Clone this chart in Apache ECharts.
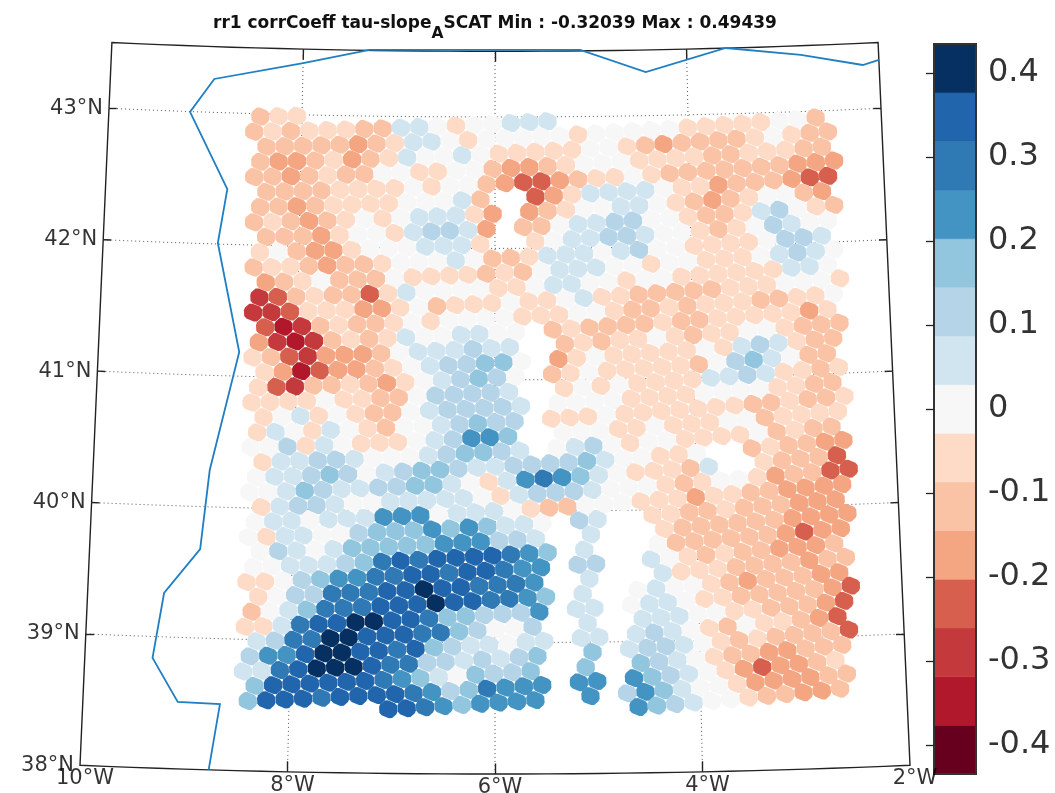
<!DOCTYPE html>
<html>
<head>
<meta charset="utf-8">
<style>html,body{margin:0;padding:0;background:#fff}#c{width:1055px;height:793px}</style>
<script src="https://cdn.jsdelivr.net/npm/echarts@6/dist/echarts.min.js"></script>
</head>
<body>
<div id="c"></div>
<script>
// class shorthand: negative classes a..f, empty cell _
const _=null,a=-1,b=-2,c=-3,d=-4,e=-5,f=-6;
const latTicks=[38,39,40,41,42,43];
const lonTicks=[-10,-8,-6,-4,-2];
const barTicks=[0.4,0.3,0.2,0.1,0,-0.1,-0.2,-0.3,-0.4];
const barColors=['#67001f','#b2182b','#c43a3c','#d6604d','#f4a582','#fac3a6','#fddbc7','#f7f7f7','#d1e5f0','#b5d4e8','#92c5de','#4393c3','#2f79b5','#2166ac','#053061'];
const barMax=0.4345;
const coastLon=[-8.76,-8.67,-9.08,-9.34,-9.25,-8.91,-8.84,-8.58,-8.83,-8.75,-9.16,-8.92,-8.0,-7.31,-5.11,-4.43,-3.59,-2.81,-2.17,-2.0];
const coastLat=[38.0,38.503,38.509,38.837,39.334,39.677,40.28,41.184,42.008,42.42,42.997,43.254,43.394,43.503,43.507,43.332,43.501,43.43,43.335,43.368];
// first lattice column of each row of retrieval cells
const rowStartCol=[0,0,1,1,1,2,2,2,3,3,3,4,4,4,5,5,5,6,6,6,7,7,7,8,8,8,9,9,9,10,10,10,11,11,11,12,12,12,13,13,21,35];
// colour class of each cell, row by row
const rowClasses=[
[b,a,a],
[b,a,b,a,a,a,b,b,1,1,0,a,0,0,1,1,1],
[b,b,b,b,b,c,b,a,1,1,0,a,0,0,0,0,0,a,0,0,0,0,0,a,a,a,a,a,0,0,b],
[b,c,c,b,a,c,b,a,1,0,0,1,0,a,a,a,a,a,0,0,a,b,c,b,b,b,b,a,0,a,b,b],
[b,b,c,b,a,b,b,0,0,a,a,0,0,b,c,c,b,a,0,0,0,a,a,a,a,b,b,a,a,a,b,b],
[b,b,b,b,a,a,a,a,0,a,0,0,b,c,d,d,c,b,a,a,0,a,b,b,b,b,b,b,b,c,c,c],
[b,b,c,b,a,a,a,a,0,0,0,1,b,_,_,d,c,a,1,1,1,1,0,a,a,c,b,b,b,c,d,d],
[b,a,b,c,b,a,0,a,0,1,1,1,a,c,_,c,b,a,0,0,1,1,0,a,b,c,b,a,0,0,b,c],
[b,b,b,c,a,0,0,a,1,2,2,1,c,_,b,b,0,1,1,2,2,0,0,a,b,b,a,1,2,0,a,b],
[a,0,b,c,c,a,0,0,0,1,1,1,a,_,_,a,0,1,1,2,2,1,0,0,a,b,a,0,2,1,0,0],
[b,a,a,b,c,b,b,a,0,0,0,1,0,b,b,a,1,1,1,0,1,2,0,0,a,a,a,a,0,2,2,1],
[c,b,a,0,b,b,b,0,a,a,a,a,b,a,b,0,1,1,1,0,0,a,0,0,a,a,a,0,1,2,1,0],
[e,d,b,a,b,b,d,a,1,0,0,0,0,a,a,0,1,1,0,0,a,0,0,a,a,a,a,a,a,1,1,0],
[e,e,d,a,a,a,c,c,a,0,b,a,a,a,0,a,a,0,1,a,a,b,b,b,b,b,a,a,a,0,0,0,a],
[d,f,e,b,a,b,b,a,0,a,0,0,0,0,a,a,a,0,0,a,b,b,a,b,a,a,a,b,b,a,a,0],
[c,e,f,e,b,a,b,a,1,0,0,1,1,0,0,_,b,a,b,b,b,b,a,b,b,a,a,a,a,a,c,a],
[a,b,d,e,c,c,c,b,0,1,1,1,2,1,1,_,_,b,a,b,a,a,0,a,b,a,a,0,0,a,b,b,b],
[a,c,f,d,c,c,b,a,0,1,2,2,3,3,0,_,c,a,0,a,a,a,a,a,0,a,1,2,1,a,b,b],
[a,d,e,b,b,a,b,c,a,0,1,2,3,2,0,_,b,a,0,a,a,a,a,a,b,0,2,3,1,0,b,b],
[a,a,a,a,0,a,a,b,b,0,2,2,2,2,1,_,_,a,0,a,0,a,a,a,a,1,1,2,1,a,a,b,a],
[a,0,1,a,0,a,b,b,0,1,2,2,2,2,1,_,0,0,0,0,a,a,a,a,0,0,0,0,a,a,b,b],
[a,1,0,a,1,0,a,b,0,0,1,2,3,2,2,_,a,a,a,0,a,a,a,a,a,a,a,b,b,a,b,b,a],
[0,0,2,a,1,0,a,a,a,0,1,2,4,4,3,_,_,0,0,0,a,a,0,a,a,a,0,0,b,a,a,a,a],
[a,1,1,2,2,1,0,0,0,1,2,3,3,2,1,_,0,1,2,0,a,0,0,a,a,a,a,0,b,a,b,b],
[0,1,1,2,3,2,0,1,2,3,3,2,1,1,2,2,2,2,3,1,0,0,a,a,0,_,_,b,a,b,b,c,c],
[0,0,1,3,2,1,1,2,2,3,3,1,0,a,1,4,5,4,3,1,0,a,a,a,b,1,_,_,a,b,b,b,d],
[a,1,2,2,1,0,0,1,1,1,1,1,0,a,1,2,2,2,1,0,0,0,a,b,a,0,0,a,c,b,b,d,d],
[0,1,1,0,1,1,1,4,4,4,0,1,1,1,0,a,b,b,0,0,0,a,a,a,c,a,a,b,b,c,c,c,c],
[0,a,1,1,0,0,2,3,3,3,4,3,4,3,1,1,0,_,2,1,_,_,a,a,b,b,a,b,b,b,c,c,c],
[0,2,1,0,1,3,3,3,3,3,4,4,4,2,2,1,_,_,1,_,_,_,a,b,b,b,b,b,b,c,c,c,c],
[0,0,1,1,1,2,3,5,6,5,6,6,6,6,5,4,3,_,1,_,_,_,0,b,b,b,b,b,b,c,d,c,c],
[a,a,0,2,3,4,4,5,5,6,6,5,6,6,5,4,4,_,2,2,_,_,1,0,a,b,a,b,b,c,c,c,b],
[a,0,2,2,5,5,5,6,6,7,6,6,5,5,5,4,_,_,1,_,_,_,1,a,a,a,b,b,b,b,c,b,b],
[b,0,1,3,5,5,5,6,6,6,7,6,6,5,5,4,3,_,1,_,_,0,1,0,0,a,b,c,b,b,b,c,c],
[a,a,1,5,6,6,7,7,6,6,5,3,3,2,2,2,4,_,1,1,_,0,1,1,0,a,a,b,b,b,b,b,c,d],
[1,2,5,5,7,7,6,6,6,5,5,3,2,0,0,2,_,_,1,_,_,1,1,1,0,0,a,a,b,b,b,c,d],
[2,4,4,6,7,7,6,6,5,6,3,2,1,1,0,1,1,_,1,1,_,1,2,1,0,a,b,0,a,a,b,c,d],
[1,1,5,6,7,7,7,6,5,5,2,2,1,2,1,2,3,_,_,3,_,1,2,2,1,0,a,b,a,b,b,b,b,d],
[3,6,6,6,6,6,6,5,4,3,1,0,3,2,2,3,_,_,3,_,_,3,2,1,0,a,b,b,c,c,b,b,b],
[3,6,6,6,5,6,6,6,6,5,4,2,3,5,4,4,4,_,4,4,_,4,3,2,1,0,a,c,d,c,c,b,a],
[6,6,5,4,3,4,4,4,4,_,_,4,_,2,4,3,1,0,0,a,c,c,c,c,b,b],
[4,3,2,1,0,0,a,b,b,c,c,b]
];

const classWidth=2*barMax/15;
const classValue=k=>k*classWidth;
// lattice of the retrieval grid in lon/lat
function cellLon(r,col){const R=r-1;return -8.49+0.18961*col-0.0588*R-0.0002858*col*R;}
function cellLat(r,col){const R=r-1;return 42.862+0.00655*col-0.11706*R+0.00006612*col*R;}

const cells=[];
rowClasses.forEach((row,i)=>row.forEach((k,j)=>{
  if(k===null)return;
  const col=rowStartCol[i]+j;
  cells.push([cellLon(i,col),cellLat(i,col),classValue(k)]);
}));

// conic-like map projection of the figure
const projection={
  project(p){const t=(p[0]+6)/4,dl=p[1]-38;
    return [495+(415-5.8*dl)*t,774-131.4*dl-8.7*t*t];},
  unproject(q){let lat=38+(774-q[1])/131.4,t=0;
    for(let i=0;i<4;i++){t=(q[0]-495)/(415-5.8*(lat-38));lat=38+(774-q[1]-8.7*t*t)/131.4;}
    return [-6+4*t,lat];}
};
const frame=[];
for(let l=-10;l<=-2;l+=0.25)frame.push([l,38]);
for(let l=38.5;l<=43.5;l+=0.5)frame.push([-2,l]);
for(let l=-2.25;l>=-10;l-=0.25)frame.push([l,43.5]);
for(let l=43;l>=38;l-=0.5)frame.push([-10,l]);
echarts.registerMap('frame',{type:'FeatureCollection',features:[{type:'Feature',properties:{name:'frame'},geometry:{type:'Polygon',coordinates:[frame]}}]});
const px=frame.map(projection.project),xs=px.map(p=>p[0]),ys=px.map(p=>p[1]);
const minX=Math.min(...xs),maxX=Math.max(...xs),minY=Math.min(...ys),maxY=Math.max(...ys);

const grat=[];
[39,40,41,42,43].forEach(lat=>{const g=[];for(let l=-10;l<=-2;l+=0.25)g.push([l,lat]);grat.push({coords:g});});
[-8,-6,-4].forEach(lon=>{const g=[];for(let l=38;l<=43.5;l+=0.5)g.push([lon,l]);grat.push({coords:g});});
const ticks=[];
[39,40,41,42,43].forEach(lat=>{ticks.push({coords:[[-10,lat],[-9.92,lat]]});ticks.push({coords:[[-2,lat],[-2.08,lat]]});});
[-8,-6,-4].forEach(lon=>{ticks.push({coords:[[lon,38],[lon,38.08]]});ticks.push({coords:[[lon,43.5],[lon,43.42]]});});
const fontFam='"DejaVu Sans"';
const latLabels=latTicks.map(l=>({value:[-10,l],name:l+'°N'}));
const lonLabels=lonTicks.map(l=>({value:[l,38],name:(-l)+'°W'}));
const pieces=barColors.map((col,i)=>({min:-barMax+i*classWidth,max:-barMax+(i+1)*classWidth,color:col}));

const chart=echarts.init(document.getElementById('c'),null,{renderer:'canvas'});
chart.setOption({
  animation:false,
  backgroundColor:'#fff',
  title:{left:208,top:1,text:'rr1 corrCoeff tau-slope{sub|A}SCAT Min : -0.32039 Max : 0.49439',
    textStyle:{fontFamily:fontFam,fontSize:17,fontWeight:'bold',color:'#111',
      rich:{sub:{fontFamily:fontFam,fontSize:15.5,fontWeight:'bold',color:'#111',padding:[20,0,0,0]}}}},
  geo:{map:'frame',projection,roam:false,silent:true,left:minX,top:minY,width:maxX-minX,height:maxY-minY,
    label:{show:false},itemStyle:{areaColor:'rgba(0,0,0,0)',borderColor:'#222',borderWidth:1.4}},
  visualMap:{show:false,type:'piecewise',seriesIndex:3,dimension:2,pieces},
  grid:{left:934,top:44,width:42,height:730,show:false},
  xAxis:{type:'value',min:0,max:1,show:false},
  yAxis:{type:'value',min:-barMax,max:barMax,position:'right',z:10,
    splitLine:{show:false},axisLine:{show:false},
    axisTick:{show:true,inside:true,length:8,customValues:barTicks,lineStyle:{color:'#222',width:1.3}},
    axisLabel:{show:true,customValues:barTicks,margin:12,fontFamily:fontFam,fontSize:32,color:'#333',padding:[6,0,0,0],
      formatter:v=>String(Math.round(v*10)/10)}},
  series:[
    {type:'lines',coordinateSystem:'geo',polyline:true,silent:true,z:2,data:grat,
      lineStyle:{color:'#555',width:1,type:[1,3],opacity:1}},
    {type:'lines',coordinateSystem:'geo',polyline:false,silent:true,z:3,data:ticks,
      lineStyle:{color:'#222',width:1.4,opacity:1,curveness:0}},
    {type:'lines',coordinateSystem:'geo',polyline:true,silent:true,z:6,data:[{coords:coastLon.map((l,i)=>[l,coastLat[i]])}],
      lineStyle:{color:'#1f7fc4',width:1.8,opacity:1}},
    {type:'scatter',coordinateSystem:'geo',silent:true,z:5,data:cells,
      symbol:'path://M184,65 L187,123 L176,150 L133,188 L100,189 L26,159 L4,133 L1,75 L12,48 L55,10 L88,9 L162,39 Z',symbolSize:[18.4,17.9],
      itemStyle:{opacity:1}},
    {type:'scatter',coordinateSystem:'geo',silent:true,z:7,data:latLabels,symbolSize:0,
      label:{show:true,position:'left',distance:6,formatter:'{b}',fontFamily:fontFam,fontSize:21,color:'#000'}},
    {type:'scatter',coordinateSystem:'geo',silent:true,z:7,data:lonLabels,symbolSize:0,
      label:{show:true,position:'bottom',distance:3,offset:[5,0],formatter:'{b}',fontFamily:fontFam,fontSize:21,color:'#000'}},
    {type:'custom',silent:true,z:4,data:barColors.map((col,i)=>[-barMax+i*classWidth,-barMax+(i+1)*classWidth]),
      xAxisIndex:0,yAxisIndex:0,clip:false,
      renderItem(p,api){const i=p.dataIndex;const a0=api.coord([0,api.value(0)]),a1=api.coord([1,api.value(1)]);
        return {type:'rect',shape:{x:a0[0],y:a1[1],width:a1[0]-a0[0],height:a0[1]-a1[1]},style:{fill:barColors[i],stroke:barColors[i],lineWidth:0.5}};},
      encode:{y:[0,1]}},
    {type:'custom',silent:true,z:5,data:[[-barMax,barMax]],xAxisIndex:0,yAxisIndex:0,clip:false,
      renderItem(p,api){const a0=api.coord([0,api.value(0)]),a1=api.coord([1,api.value(1)]);
        return {type:'rect',shape:{x:a0[0],y:a1[1],width:a1[0]-a0[0],height:a0[1]-a1[1]},style:{fill:'none',stroke:'#333',lineWidth:2}};},
      encode:{y:[0,1]}}
  ]
});
</script>
</body>
</html>
